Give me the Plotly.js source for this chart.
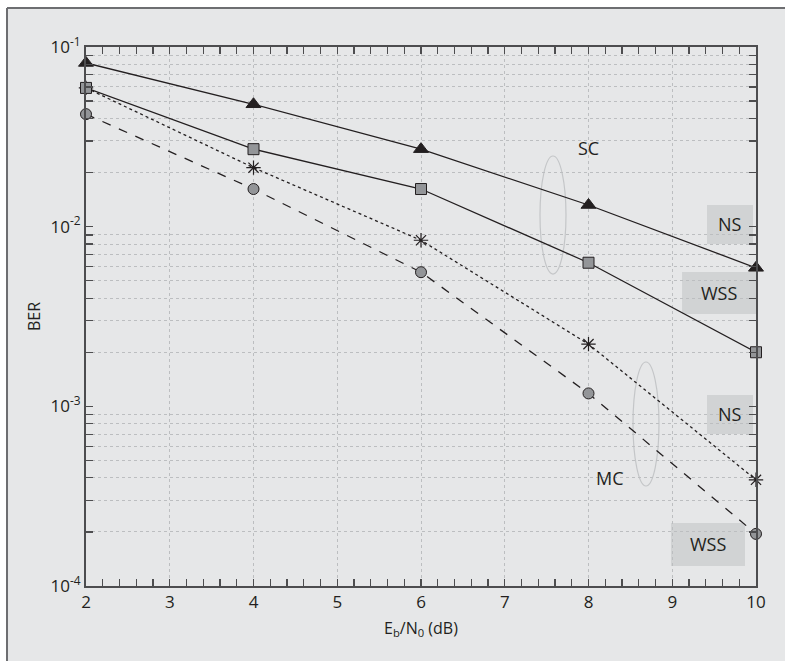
<!DOCTYPE html>
<html>
<head>
<meta charset="utf-8">
<script src="https://cdn.plot.ly/plotly-3.0.1.min.js"></script>
<style>html,body{margin:0;padding:0;background:#fff;}#chart{width:785px;height:661px;}</style>
</head>
<body>
<div id="chart"></div>
<script>
// ---- data ----
var ebn0 = [2, 4, 6, 8, 10];
var scNS  = [0.0815, 0.048, 0.027, 0.0132, 0.0059];
var scWSS = [0.0592, 0.027, 0.0162, 0.0063, 0.0020];
var mcNS  = [0.0592, 0.0213, 0.0084, 0.00222, 0.00039];
var mcWSS = [0.0423, 0.0162, 0.00558, 0.00118, 0.000195];
var yTickVals = [1e-4, 1e-3, 1e-2, 1e-1];
var yTickText = ['10<sup>-4</sup>', '10<sup>-3</sup>', '10<sup>-2</sup>', '10<sup>-1</sup>'];
var xTickVals = [2, 3, 4, 5, 6, 7, 8, 9, 10];

var minorY = [];
for (var d = -4; d < -1; d++) {
  for (var m = 2; m <= 9; m++) minorY.push(m * Math.pow(10, d));
}

var ink = '#231f20';
var markerGray = '#939598';

var traces = [
  {x: ebn0, y: mcNS, mode: 'lines+markers', name: 'MC NS', cliponaxis: false,
   line: {color: ink, width: 1.3, dash: 'dot'},
   marker: {symbol: 'asterisk-open', size: 12, color: ink, line: {color: ink, width: 1.2}}},
  {x: ebn0, y: mcWSS, mode: 'lines+markers', name: 'MC WSS', cliponaxis: false,
   line: {color: ink, width: 1.3, dash: 'dash'},
   marker: {symbol: 'circle', size: 11, color: markerGray, line: {color: ink, width: 1}}},
  {x: ebn0, y: scWSS, mode: 'lines+markers', name: 'SC WSS', cliponaxis: false,
   line: {color: ink, width: 1.3},
   marker: {symbol: 'square', size: 11, color: markerGray, line: {color: ink, width: 1}}},
  {x: ebn0, y: scNS, mode: 'lines+markers', name: 'SC NS', cliponaxis: false,
   line: {color: ink, width: 1.3},
   marker: {symbol: 'triangle-up', size: 13, color: ink, line: {color: ink, width: 1}}}
];

var boxFill = '#d1d3d4';
var ellipseCol = '#c4c6c8';
var shapes = [
  // outer framed panel
  {type: 'rect', xref: 'paper', yref: 'paper', x0: -0.1179, x1: 1.05, y0: -0.15, y1: 1.0724,
   fillcolor: '#e6e7e8', line: {width: 0}, layer: 'below'},
  {type: 'line', xref: 'paper', yref: 'paper', x0: -0.1179, x1: -0.1179, y0: -0.15, y1: 1.0724,
   line: {color: '#6d6e71', width: 2}, layer: 'below'},
  {type: 'line', xref: 'paper', yref: 'paper', x0: -0.1179, x1: 1.05, y0: 1.0724, y1: 1.0724,
   line: {color: '#6d6e71', width: 2}, layer: 'below'},
  // label boxes
  {type: 'rect', xref: 'paper', yref: 'paper', x0: 0.9269, x1: 0.9955, y0: 0.6345, y1: 0.7069,
   fillcolor: boxFill, line: {width: 0}, layer: 'between'},
  {type: 'rect', xref: 'paper', yref: 'paper', x0: 0.8896, x1: 1.0, y0: 0.5046, y1: 0.5826,
   fillcolor: boxFill, line: {width: 0}, layer: 'between'},
  {type: 'rect', xref: 'paper', yref: 'paper', x0: 0.9269, x1: 0.9955, y0: 0.2820, y1: 0.3544,
   fillcolor: boxFill, line: {width: 0}, layer: 'between'},
  {type: 'rect', xref: 'paper', yref: 'paper', x0: 0.8731, x1: 0.9836, y0: 0.0371, y1: 0.1169,
   fillcolor: boxFill, line: {width: 0}, layer: 'between'},
  // ellipses
  {type: 'circle', xref: 'paper', yref: 'paper', x0: 0.6776, x1: 0.7164, y0: 0.5788, y1: 0.7978,
   line: {color: ellipseCol, width: 1.2}, layer: 'between'},
  {type: 'circle', xref: 'paper', yref: 'paper', x0: 0.8164, x1: 0.8552, y0: 0.1855, y1: 0.4156,
   line: {color: ellipseCol, width: 1.2}, layer: 'between'}
];

var lblFont = {family: 'Open Sans, Noto Sans, sans-serif', size: 18, color: ink};
function lbl(t, x, y) {
  return {text: t, xref: 'paper', yref: 'paper', x: x, y: y, showarrow: false,
          xanchor: 'center', yanchor: 'middle', font: lblFont};
}
var annotations = [
  lbl('SC', 0.7493, 0.8126),
  lbl('MC', 0.7821, 0.2004),
  lbl('NS', 0.9612, 0.6707),
  lbl('WSS', 0.9448, 0.5436),
  lbl('NS', 0.9612, 0.3182),
  lbl('WSS', 0.9284, 0.0770)
];

var axisCol = '#4d4d4f';
var gridCol = '#bcbec0';
var layout = {
  width: 785, height: 661,
  margin: {l: 86, r: 29, t: 47, b: 75},
  paper_bgcolor: '#ffffff',
  plot_bgcolor: '#ddeaf3',
  showlegend: false,
  font: {family: 'Open Sans, Noto Sans, sans-serif', size: 17, color: ink},
  xaxis: {
    range: [2, 10], tickvals: xTickVals, ticks: 'inside', ticklen: 7, tickwidth: 1.3,
    tickcolor: axisCol, showline: true, linecolor: axisCol, linewidth: 2, mirror: 'ticks',
    showgrid: true, gridcolor: gridCol, griddash: '3px,3px', gridwidth: 1, zeroline: false,
    tickfont: {size: 17}, automargin: true,
    minor: {dtick: 0.2, ticks: 'inside', ticklen: 7, tickwidth: 1.3, tickcolor: axisCol, showgrid: false},
    title: {text: 'E<sub>b</sub>/N<sub>0</sub> (dB)', font: {size: 16}, standoff: 10}
  },
  yaxis: {
    type: 'log', range: [-4, -1], tickvals: yTickVals, ticktext: yTickText,
    ticks: 'inside', ticklen: 7, tickwidth: 1.3, tickcolor: axisCol,
    showline: true, linecolor: axisCol, linewidth: 2, mirror: 'ticks',
    showgrid: false, zeroline: false, tickfont: {size: 17}, automargin: true,
    minor: {tickvals: minorY, ticks: 'inside', ticklen: 7, tickwidth: 1.3, tickcolor: axisCol,
            showgrid: true, gridcolor: gridCol, griddash: '3px,3px', gridwidth: 1},
    title: {text: 'BER', font: {size: 16}, standoff: 6}
  },
  shapes: shapes,
  annotations: annotations
};

Plotly.newPlot('chart', traces, layout, {displayModeBar: false, staticPlot: true});
</script>
</body>
</html>
